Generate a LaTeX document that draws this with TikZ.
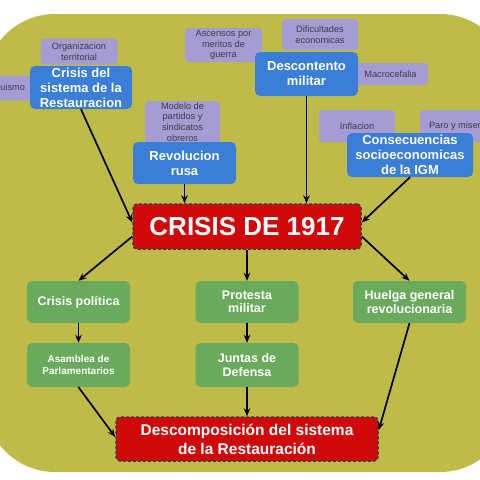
\documentclass[tikz,border=0pt]{standalone}
\usepackage{fontspec}
\setmainfont{Liberation Sans}
\usepackage{xcolor}
\usetikzlibrary{arrows.meta}
\definecolor{oliva}{RGB}{190,187,72}
\definecolor{lila}{RGB}{166,156,212}
\definecolor{azul}{RGB}{58,126,216}
\definecolor{verde}{RGB}{106,170,92}
\definecolor{rojo}{RGB}{208,8,10}
\definecolor{gris}{RGB}{60,60,70}

\begin{document}
\begin{tikzpicture}[x=1pt, y=-1pt, >={Stealth[length=8pt,width=6.5pt]},
  sub/.style = {fill=lila, rounded corners=4pt, inner sep=0pt, align=center,
    text=gris, font=\fontsize{9.2}{10.7}\selectfont},
  causa/.style = {fill=azul, rounded corners=5pt, inner sep=0pt, align=center,
    text=white, font=\fontsize{13}{15}\selectfont\bfseries},
  efecto/.style = {fill=verde, rounded corners=5pt, inner sep=0pt, align=center,
    text=white, font=\fontsize{12.5}{13.5}\selectfont\bfseries},
  central/.style = {fill=rojo, draw=gris, line width=1.5pt, dash pattern=on 3pt off 2pt,
    rounded corners=4pt, inner sep=0pt, align=center, text=white},
  flecha/.style = {->, line width=1.7pt}]
\useasboundingbox (0,0) rectangle (480,480);
\clip (0,0) rectangle (480,480);
%fondo
\fill [oliva, rounded corners=70pt] (-15,14) rectangle (510,472);
% subtemas
\node [sub, minimum width=64pt, minimum height=25pt] (caciq) at (1,88) {Caciquismo};
\node [sub, minimum width=77pt, minimum height=26pt] (orgTerr) at (79,51.5) {Organizacion\\territorial};
\node [sub, minimum width=77pt, minimum height=34pt] (ascensos) at (223.5,45) {Ascensos por\\meritos de\\guerra};
\node [sub, minimum width=76pt, minimum height=31pt] (dific) at (320,34.5) {Dificultades\\economicas};
\node [sub, minimum width=75pt, minimum height=22pt] (macro) at (390.5,74) {Macrocefalia};
\node [sub, minimum width=75pt, minimum height=42pt] (modelo) at (182.5,122) {Modelo de\\partidos y\\sindicatos\\obreros};
\node [sub, minimum width=76pt, minimum height=32pt] (inflacion) at (357,126) {Inflacion};
\node [sub, minimum width=77pt, minimum height=32pt] (paro) at (458.5,126) {Paro y miseria};
% causas
\node [causa, minimum width=102pt, minimum height=43pt] (crisisSis) at (81,87.5) {Crisis del\\sistema de la\\Restauracion};
\node [causa, minimum width=103pt, minimum height=42pt] (revRusa) at (184.5,163) {Revolucion\\rusa};
\node [causa, minimum width=103pt, minimum height=44pt] (descMil) at (306.5,74) {Descontento\\militar};
\node [causa, minimum width=126pt, minimum height=44pt] (consIGM) at (410,155) {Consecuencias\\socioeconomicas\\de la IGM};
% crisis
\node [central, minimum width=228pt, minimum height=45pt, font=\fontsize{26}{28}\selectfont\bfseries] (crisis) at (247,226.5) {CRISIS DE 1917};
% efectos
\node [efecto, minimum width=103pt, minimum height=42pt] (crisisPol) at (78.5,302) {Crisis política};
\node [efecto, minimum width=103pt, minimum height=42pt] (protesta) at (247,302) {Protesta\\militar};
\node [efecto, minimum width=113pt, minimum height=42pt] (huelga) at (409.5,302) {Huelga general\\revolucionaria};
\node [efecto, minimum width=103pt, minimum height=44pt, font=\fontsize{10}{12.5}\selectfont\bfseries] (asamblea) at (78.5,365) {Asamblea de\\Parlamentarios};
\node [efecto, minimum width=103pt, minimum height=44pt] (juntas) at (247,365) {Juntas de\\Defensa};
\node [central, minimum width=262pt, minimum height=44pt, font=\fontsize{15.5}{19}\selectfont\bfseries] (descomp) at (247,439) {Descomposición del sistema\\de la Restauración};
% flechas
\draw [flecha] (crisisSis.south) -- ([yshift=4pt]crisis.west);
\draw [flecha] (revRusa.south) -- (revRusa.south |- crisis.north);
\draw [flecha] (descMil.south) -- (descMil.south |- crisis.north);
\draw [flecha] (consIGM.south) -- ([yshift=4pt]crisis.east);
\draw [flecha] ([yshift=-10pt]crisis.west) -- (crisisPol.north);
\draw [flecha] (crisis.south) -- (protesta.north);
\draw [flecha] ([yshift=-10pt]crisis.east) -- (huelga.north);
\draw [flecha] (crisisPol.south) -- (asamblea.north);
\draw [flecha] (protesta.south) -- (juntas.north);
\draw [flecha] (asamblea.south) -- ([yshift=2pt]descomp.west);
\draw [flecha] (juntas.south) -- (descomp.north);
\draw [flecha] (huelga.south) -- ([yshift=9pt]descomp.east);
\end{tikzpicture}
\end{document}
